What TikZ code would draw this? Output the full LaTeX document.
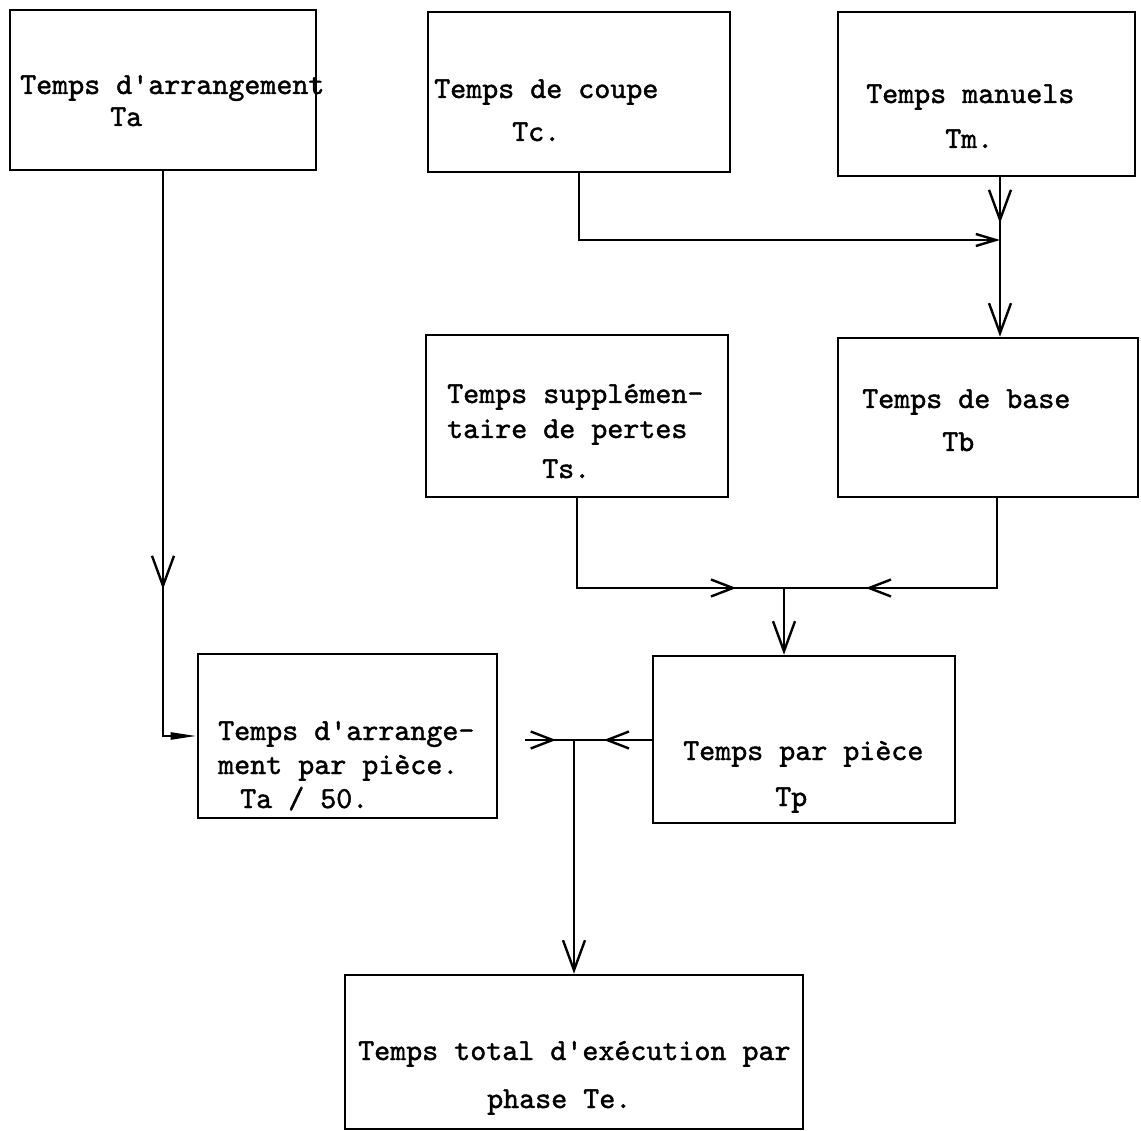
\documentclass[tikz,border=0pt]{standalone}
\usepackage{fontspec}
\usetikzlibrary{arrows.meta,decorations.markings}
\newfontfamily\twface{lmmono10-regular.otf}[FakeBold=1.4]
\newcommand\twfont{\twface\fontsize{30.5}{36}\selectfont}
\tikzset{
  x=1pt, y=-1pt,
  vtip/.tip={Straight Barb[length=30pt,width=22pt]},
  htip/.tip={Straight Barb[length=22pt,width=17pt]},
  stip/.tip={Straight Barb[length=20pt,width=12pt]},
  ttip/.tip={Triangle[length=26pt,width=7pt]},
  box/.style={draw, line width=2.6pt, inner sep=0pt, rectangle},
  conn/.style={line width=2.4pt, line cap=rect},
  txt/.style={anchor=base west, inner sep=0pt, font=\twfont},
  midarr/.style 2 args={postaction={decorate,decoration={markings,
      mark=at position #1 with {\arrow[line width=2.4pt]{#2}}}}},
}
\begin{document}
\begin{tikzpicture}
\useasboundingbox (0,0) rectangle (1141,1131);
% boxes
\node[box, minimum width=306pt, minimum height=160pt] (A) at (163,90) {};
\node[box, minimum width=302pt, minimum height=160pt] (C) at (579,92) {};
\node[box, minimum width=297pt, minimum height=164pt] (M) at (986.5,94) {};
\node[box, minimum width=302pt, minimum height=162pt] (S) at (577,416) {};
\node[box, minimum width=300pt, minimum height=159pt] (B) at (988,417.5) {};
\node[box, minimum width=299pt, minimum height=164pt] (D) at (347.5,736) {};
\node[box, minimum width=302pt, minimum height=167pt] (P) at (804,739.5) {};
\node[box, minimum width=458pt, minimum height=154pt] (E) at (574,1052) {};
% texts
\node[txt] (A1) at (20,94) {Temps d'arrangement};
\node[txt] (A2) at (110,126) {Ta};
\node[txt] (C1) at (434,98) {Temps de coupe};
\node[txt] (C2) at (512,141) {Tc.};
\node[txt] (M1) at (866,103) {Temps manuels};
\node[txt] (M2) at (945,148) {Tm.};
\node[txt] (S1) at (447,403) {Temps supplémen-};
\node[txt] (S2) at (447,438) {taire de pertes};
\node[txt] (S3) at (542,478) {Ts.};
\node[txt] (B1) at (862,408) {Temps de base};
\node[txt] (B2) at (942,451) {Tb};
\node[txt] (D1) at (218,740) {Temps d'arrange-};
\node[txt] (D2) at (218,774) {ment par pièce.};
\node[txt] (D3) at (240,808) {Ta / 50.};
\node[txt] (P1) at (683,760) {Temps par pièce};
\node[txt] (P2) at (775,806) {Tp};
\node[txt] (E1) at (358,1060) {Temps total d'exécution par};
\node[txt] (E2) at (487,1108) {phase Te.};
% junction coordinates
\coordinate (j1) at (1000,240);
\coordinate (k2) at (997,588);
\coordinate (j2) at (784,588);
\coordinate (h0) at (526,740);
\coordinate (j3) at (574,740);
% connectors
\draw[conn, midarr={418pt}{vtip}, -{ttip}] (A.south) |- (D.west);
\draw[conn, -{stip}] (C.south) |- (j1);
\draw[conn, midarr={46pt}{vtip}, -{vtip}] (j1 |- M.south) -- (j1 |- B.north);
\draw[conn, midarr={249pt}{htip}] (S.south) |- (j2);
\draw[conn, midarr={221pt}{htip}] (k2 |- B.south) -- (k2) -- (j2);
\draw[conn, -{vtip}] (j2) -- (j2 |- P.north);
\draw[conn, midarr={30pt}{htip}] (h0) -- (j3);
\draw[conn, midarr={48pt}{htip}] (j3 -| P.west) -- (j3);
\draw[conn, -{vtip}] (j3) -- (j3 |- E.north);
\end{tikzpicture}
\end{document}
